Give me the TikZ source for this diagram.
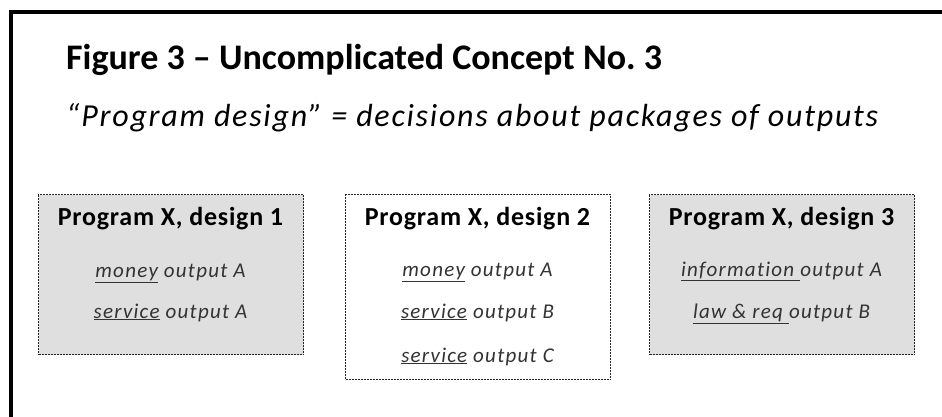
\documentclass[tikz,border=0pt]{standalone}
\usepackage{fontspec}
\setmainfont{Carlito}
\usetikzlibrary{positioning}
\tikzset{
	designbox/.style={draw=black!85, line width=1pt, dash pattern=on 2pt off 1pt, minimum width=265pt, inner sep=0pt, anchor=north west},
	headtext/.style={anchor=base, font=\fontsize{26}{30}\selectfont\bfseries\addfontfeatures{LetterSpace=3}, inner sep=0pt},
	itemtext/.style={anchor=base, font=\fontsize{21}{25}\selectfont\itshape\addfontfeatures{LetterSpace=6,Ligatures=NoCommon}, text=black!80, inner sep=0pt}
}
\begin{document}
\begin{tikzpicture}[x=1pt, y=-1pt]
			%%%%% START %%%%%
			\clip (0, 0) rectangle (942, 416);
			\useasboundingbox (0, 0) rectangle (942, 416);
			
			\draw[line width=4pt] (11, 12) rectangle (980, 460);
			
			\node[anchor=base west, inner sep=0pt, font=\fontsize{36}{42}\selectfont\bfseries] (title) at (66, 69) {Figure 3 -- Uncomplicated Concept No.\ 3};
			\node[anchor=base west, inner sep=0pt, font=\fontsize{32}{38}\selectfont\itshape\addfontfeatures{LetterSpace=5.5}] (subtitle) at (66, 126) {``Program design'' = decisions about packages of outputs};
			
			% design 1
			\node[designbox, fill=gray!25, minimum height=160pt] (d1) at (38, 194) {};
			\node[headtext] (d1head) at (170.5, 225) {Program X, design 1};
			\node[itemtext] (d1a) at (170.5, 277) {\underline{money} output A};
			\node[itemtext] (d1b) at (170.5, 318) {\underline{service} output A};
			
			% design 2
			\node[designbox, fill=white, minimum height=185pt] (d2) at (345, 194) {};
			\node[headtext] (d2head) at (477.5, 225) {Program X, design 2};
			\node[itemtext] (d2a) at (477.5, 276) {\underline{money} output A};
			\node[itemtext] (d2b) at (477.5, 318) {\underline{service} output B};
			\node[itemtext] (d2c) at (477.5, 362) {\underline{service} output C};
			
			% design 3
			\node[designbox, fill=gray!25, minimum height=160pt] (d3) at (649, 194) {};
			\node[headtext] (d3head) at (781.5, 225) {Program X, design 3};
			\node[itemtext] (d3a) at (781.5, 276) {\underline{information\ }output A};
			\node[itemtext] (d3b) at (781.5, 318) {\underline{law \& req\ }output B};
			%%%%% END %%%%%
\end{tikzpicture}
\end{document}
